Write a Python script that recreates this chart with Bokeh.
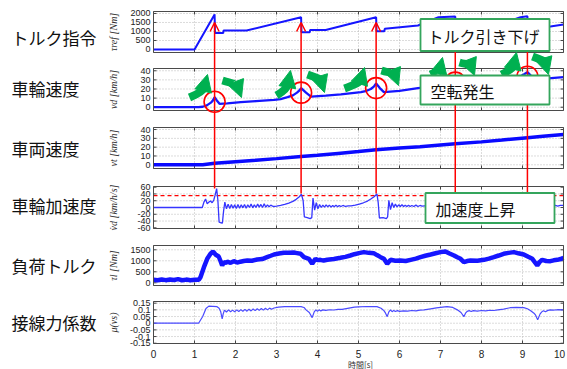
import math
from bokeh.plotting import figure
from bokeh.models import Range1d, Arrow, OpenHead, NormalHead
from bokeh.core.properties import value
from bokeh.embed import file_html
from bokeh.resources import INLINE

# ---------------- data ----------------
time_ticks = [0, 1, 2, 3, 4, 5, 6, 7, 8, 9, 10]
time_tick_labels = ["0", "1", "2", "3", "4", "5", "6", "7", "8", "9", "10"]
x_label = "時間[s]"

torque_pts = [(0.0, 0), (1.0, 0), (1.49, 1950), (1.50, 910), (1.70, 910), (1.71, 1055),
              (2.27, 1055), (3.60, 1790), (3.61, 960), (3.81, 960), (3.82, 1085),
              (4.20, 1085), (5.43, 1790), (5.44, 1010), (5.63, 1010), (5.64, 1150),
              (6.45, 1330), (6.95, 1790), (7.36, 1830), (7.37, 1010), (7.57, 1010),
              (7.58, 1140), (8.40, 1360), (8.95, 1790), (9.12, 1840), (9.13, 1120),
              (9.33, 1120), (9.34, 1250), (9.68, 1280), (10.0, 1390)]

wheel_pts = [(0.0, 0), (1.1, 0), (1.2, 0.5), (1.3, 2), (1.4, 5), (1.45, 7.5), (1.49, 11),
             (1.55, 7), (1.61, 3.7), (1.8, 4.3), (2.13, 5.5), (2.5, 6.7), (2.94, 8),
             (3.1, 9), (3.27, 11), (3.4, 13), (3.5, 16), (3.56, 18.5), (3.60, 21),
             (3.72, 16), (3.84, 11.7), (4.2, 12.8), (4.57, 14), (5.06, 16.5), (5.2, 18),
             (5.3, 20), (5.38, 23), (5.43, 26), (5.52, 21), (5.62, 16.5), (6.0, 18),
             (6.45, 21), (6.8, 22.5), (7.0, 24.5), (7.2, 28), (7.3, 30.5), (7.36, 32),
             (7.46, 27), (7.56, 24), (8.0, 25.5), (8.5, 28), (8.8, 31), (8.95, 34),
             (9.05, 36.5), (9.12, 38.5), (9.22, 34), (9.32, 30.5), (9.7, 32), (10.0, 33)]

vehicle_pts = [(0.0, 0), (1.2, 0), (1.49, 1.8), (2.0, 3.5), (2.5, 5.2), (3.0, 7.0),
               (3.6, 9.4), (4.0, 10.8), (4.5, 12.9), (5.0, 15.0), (5.43, 17.0),
               (6.0, 19.0), (6.5, 20.6), (7.0, 22.5), (7.36, 23.8), (8.0, 26.0),
               (8.5, 28.0), (9.12, 30.7), (9.5, 32.3), (10.0, 34.4)]

accel_pts = [(0.0, 0), (1.19, 0), (1.23, 16), (1.27, 25), (1.31, 11), (1.35, 16), (1.39, 19),
             (1.43, 14), (1.47, 22), (1.50, 35), (1.54, 56), (1.57, 22), (1.60, -43),
             (1.64, -45), (1.68, -46), (1.71, -10), (1.74, 16), (1.78, -4), (1.82, 10),
             (1.86, -3), (1.90, 9), (1.94, -2), (1.98, 8), (2.02, -3), (2.06, 9), (2.10, -2),
             (2.14, 8), (2.18, -1), (2.22, 9), (2.26, -2), (2.30, 8), (2.34, 0), (2.38, 10),
             (2.42, -1), (2.46, 8), (2.50, 0), (2.54, 10), (2.58, 1), (2.62, 9), (2.66, 0),
             (2.70, 11), (2.74, 1), (2.78, 8), (2.82, 2), (2.86, 7), (2.92, 3), (3.00, 4),
             (3.10, 6), (3.20, 9), (3.30, 13), (3.40, 18), (3.48, 24), (3.55, 31),
             (3.61, 39), (3.65, 20), (3.68, -28), (3.75, -30), (3.82, -33), (3.86, -30),
             (3.89, 28), (3.93, -8), (3.97, 14), (4.01, -4), (4.05, 9), (4.09, 0), (4.13, 7),
             (4.17, 1), (4.21, 8), (4.25, 2), (4.29, 7), (4.33, 1), (4.37, 6), (4.41, 2),
             (4.45, 7), (4.49, 2), (4.53, 6), (4.57, 3), (4.62, 6), (4.68, 3), (4.75, 5),
             (4.82, 5), (4.92, 7), (5.02, 10), (5.12, 14), (5.22, 19), (5.30, 25),
             (5.38, 32), (5.45, 40), (5.48, 15), (5.51, -31), (5.60, -30), (5.68, -33),
             (5.71, -28), (5.74, 21), (5.78, -6), (5.82, 14), (5.86, 0), (5.90, 10),
             (5.94, 2), (5.98, 8), (6.02, 3), (6.06, 8), (6.10, 3), (6.14, 7), (6.18, 3),
             (6.22, 7), (6.26, 3), (6.30, 6), (6.35, 3), (6.40, 7), (6.45, 3), (6.50, 6),
             (6.55, 4), (6.62, 5), (6.75, 6), (6.90, 10), (7.05, 16), (7.20, 25),
             (7.30, 33), (7.36, 39), (7.39, 14), (7.42, -30), (7.50, -31), (7.56, -32),
             (7.59, -28), (7.62, 20), (7.66, -5), (7.70, 12), (7.74, 1), (7.78, 9),
             (7.82, 2), (7.86, 8), (7.90, 3), (7.95, 7), (8.00, 4), (8.10, 6), (8.25, 7),
             (8.40, 9), (8.60, 13), (8.80, 19), (8.95, 27), (9.05, 33), (9.12, 39),
             (9.15, 14), (9.18, -32), (9.26, -33), (9.32, -31), (9.35, -26), (9.38, 22),
             (9.42, -6), (9.46, 12), (9.50, 1), (9.54, 9), (9.58, 2), (9.62, 8), (9.66, 3),
             (9.70, 7), (9.75, 4), (9.80, 6), (9.86, 4), (9.92, 6), (10.0, 6)]
accel_threshold = 35

load_pts = [(0.0, 140), (0.1, 115), (0.2, 150), (0.3, 120), (0.4, 145), (0.5, 125),
            (0.6, 165), (0.7, 115), (0.8, 145), (0.9, 120), (1.0, 135), (1.105, 140),
            (1.146, 255), (1.23, 710), (1.31, 1090), (1.39, 1317), (1.455, 1423),
            (1.51, 1287), (1.59, 1196), (1.63, 1014), (1.675, 787), (1.716, 938),
            (1.76, 900), (1.8, 960), (1.88, 910), (1.96, 983), (2.04, 920), (2.12, 960),
            (2.2, 990), (2.29, 1014), (2.4, 1000), (2.53, 1060), (2.65, 1080), (2.77, 1166),
            (2.86, 1230), (2.94, 1287), (3.06, 1330), (3.18, 1363), (3.3, 1370),
            (3.42, 1378), (3.5, 1350), (3.59, 1317), (3.67, 1166), (3.79, 1090),
            (3.87, 863), (3.95, 1090), (4.0, 1030), (4.07, 1044), (4.15, 1010),
            (4.24, 1044), (4.4, 1080), (4.56, 1135), (4.68, 1180), (4.80, 1241),
            (4.9, 1300), (5.01, 1347), (5.13, 1393), (5.25, 1360), (5.37, 1347),
            (5.45, 1260), (5.54, 1166), (5.62, 1090), (5.70, 863), (5.78, 1044),
            (5.9, 1000), (6.02, 1014), (6.15, 990), (6.27, 1044), (6.4, 1100),
            (6.51, 1166), (6.63, 1230), (6.76, 1287), (6.88, 1340), (7.0, 1393),
            (7.12, 1423), (7.22, 1330), (7.33, 1241), (7.41, 1160), (7.49, 1090),
            (7.57, 938), (7.65, 990), (7.73, 1014), (7.9, 1000), (8.06, 1044),
            (8.18, 1100), (8.3, 1166), (8.42, 1240), (8.54, 1317), (8.66, 1360),
            (8.79, 1393), (8.9, 1340), (9.03, 1287), (9.14, 1180), (9.24, 1090),
            (9.36, 787), (9.42, 950), (9.48, 1044), (9.58, 990), (9.68, 983),
            (9.76, 1020), (9.85, 1044), (9.93, 1080), (10.0, 1135)]

mu_pts = [(0.0, 0.0), (1.1, 0.0), (1.2, 0.05), (1.28, 0.11), (1.35, 0.128), (1.45, 0.126),
          (1.55, 0.124), (1.6, 0.112), (1.64, 0.085), (1.675, 0.032), (1.7, 0.07),
          (1.73, 0.098), (1.78, 0.084), (1.83, 0.1), (1.88, 0.086), (1.93, 0.098),
          (1.98, 0.085), (2.03, 0.1), (2.08, 0.088), (2.13, 0.102), (2.18, 0.089),
          (2.23, 0.104), (2.28, 0.09), (2.33, 0.105), (2.38, 0.092), (2.43, 0.107),
          (2.48, 0.094), (2.53, 0.108), (2.58, 0.096), (2.63, 0.11), (2.68, 0.098),
          (2.73, 0.112), (2.78, 0.1), (2.83, 0.113), (2.88, 0.104), (2.94, 0.114),
          (3.05, 0.12), (3.2, 0.124), (3.4, 0.125), (3.6, 0.124), (3.67, 0.118),
          (3.72, 0.1), (3.8, 0.08), (3.87, 0.042), (3.92, 0.085), (3.96, 0.1), (4.0, 0.09),
          (4.04, 0.1), (4.08, 0.092), (4.13, 0.1), (4.2, 0.096), (4.3, 0.101),
          (4.4, 0.099), (4.5, 0.104), (4.6, 0.103), (4.7, 0.109), (4.8, 0.115),
          (4.9, 0.12), (5.0, 0.123), (5.2, 0.125), (5.45, 0.124), (5.55, 0.112),
          (5.62, 0.094), (5.66, 0.075), (5.70, 0.049), (5.74, 0.085), (5.78, 0.1),
          (5.82, 0.086), (5.86, 0.096), (5.9, 0.088), (5.95, 0.094), (6.0, 0.089),
          (6.1, 0.093), (6.2, 0.09), (6.3, 0.095), (6.4, 0.092), (6.5, 0.098), (6.6, 0.1),
          (6.76, 0.108), (6.9, 0.115), (7.0, 0.119), (7.16, 0.124), (7.3, 0.118),
          (7.41, 0.1), (7.5, 0.08), (7.57, 0.049), (7.61, 0.075), (7.65, 0.089),
          (7.7, 0.094), (7.75, 0.088), (7.8, 0.094), (7.9, 0.091), (8.0, 0.095),
          (8.1, 0.093), (8.2, 0.097), (8.3, 0.095), (8.4, 0.1), (8.54, 0.106),
          (8.7, 0.116), (8.85, 0.119), (9.03, 0.117), (9.12, 0.108), (9.2, 0.094),
          (9.28, 0.075), (9.32, 0.06), (9.37, 0.025), (9.43, 0.07), (9.47, 0.085),
          (9.51, 0.094), (9.56, 0.086), (9.62, 0.096), (9.68, 0.1), (9.75, 0.098),
          (9.85, 0.101), (10.0, 0.1)]

slip_t = [1.49, 3.60, 5.43, 7.36, 9.12]
slip_wheel_v = [11, 21, 26, 32, 38.5]

row_labels = ["トルク指令", "車輪速度", "車両速度", "車輪加速度", "負荷トルク", "接線力係数"]
axis_labels = ["τref [Nm]", "vd [km/h]", "vt [km/h]", "v̇d [km/h/s]", "τl [Nm]", "μ(vs)"]
y_ticks = [[0, 500, 1000, 1500, 2000],
           [0, 10, 20, 30, 40],
           [0, 10, 20, 30, 40],
           [-60, -40, -20, 0, 20, 40, 60],
           [0, 500, 1000, 1500],
           [-0.15, -0.1, -0.05, 0, 0.05, 0.1, 0.15]]
y_tick_labels = [["0", "500", "1000", "1500", "2000"],
                 ["0", "10", "20", "30", "40"],
                 ["0", "10", "20", "30", "40"],
                 ["-60", "-40", "-20", "0", "20", "40", "60"],
                 ["0", "500", "1000", "1500"],
                 ["-0.15", "-0.1", "-0.05", "0", "0.05", "0.1", "0.15"]]
callout_texts = ["トルク引き下げ", "空転発生", "加速度上昇"]

# ---------------- layout (page pixels; canvas fills the window) ----------------
W, H = 567, 369
PAGE_TOP, PAGE_BOT = 0, H
X0, SX = 153.0, 41.0            # page x of t=0 and px per second


def t_of(px):
    return (px - X0) / SX


# panel frame: top px, bottom px, value at top, value at bottom
panel_geo = [(11, 52, 2110, -167), (68, 110, 42.5, -3.6), (127, 168, 42.3, -4.2),
             (186, 228, 62, -62), (245, 285, 1695, -123), (301, 343, 0.1626, -0.152)]
row_label_y = [37, 88, 148, 205, 265, 322]
names = ["p1", "p2", "p3", "p4", "p5", "p6"]

BLUE = "#1515ff"
GREEN = "#00b050"
BOXGREEN = "#34a55c"
RED = "#ff0000"
TICK_FONT = value("Liberation Sans")
JP_FONT = value("Noto Sans CJK JP")

p = figure(width=W, height=H, x_range=Range1d(t_of(0), t_of(W)),
           y_range=Range1d(PAGE_BOT, PAGE_TOP), output_backend="svg",
           toolbar_location=None, title=None, min_border=0,
           x_axis_location=None, y_axis_location=None)
p.grid.visible = False
p.outline_line_color = None
p.background_fill_color = "white"
p.border_fill_color = "white"

ranges = {}
ks = {}
for name, (top, bot, hi, lo) in zip(names, panel_geo):
    k = (hi - lo) / (bot - top)
    ks[name] = k
    ranges[name] = Range1d(start=lo - (PAGE_BOT - bot) * k, end=hi + (top - PAGE_TOP) * k)
p.extra_y_ranges = ranges

t_first, t_last = time_ticks[0], time_ticks[-1]
inner = time_ticks[1:-1]
tick_len_x = 3.0 / SX

for i, name in enumerate(names):
    top, bot, hi, lo = panel_geo[i]
    k = ks[name]
    p.segment(x0=inner, x1=inner, y0=[lo] * len(inner), y1=[hi] * len(inner),
              y_range_name=name, line_color="#b8b8b8", line_dash="1 2", line_width=1)
    gy = [v for v in y_ticks[i] if lo + 1.5 * k < v < hi - 1.5 * k]
    p.segment(x0=[t_first] * len(gy), x1=[t_last] * len(gy), y0=gy, y1=gy,
              y_range_name=name, line_color="#b8b8b8", line_dash="1 2", line_width=1)
    yt = y_ticks[i]
    p.segment(x0=[t_first] * len(yt), x1=[t_first + tick_len_x] * len(yt), y0=yt, y1=yt,
              y_range_name=name, line_color="#444444", line_width=1)
    p.segment(x0=[t_last - tick_len_x] * len(yt), x1=[t_last] * len(yt), y0=yt, y1=yt,
              y_range_name=name, line_color="#444444", line_width=1)
    p.segment(x0=time_ticks, x1=time_ticks, y0=[lo] * 11, y1=[lo + 3 * k] * 11,
              y_range_name=name, line_color="#444444", line_width=1)
    p.segment(x0=time_ticks, x1=time_ticks, y0=[hi - 3 * k] * 11, y1=[hi] * 11,
              y_range_name=name, line_color="#444444", line_width=1)
    p.text(x=[t_first] * len(yt), y=yt, text=y_tick_labels[i], x_offset=-3,
           text_align="right", text_baseline="middle", text_font_size="9px",
           text_color="#222222", text_font=TICK_FONT, y_range_name=name)


def xs(pts):
    return [a for a, b in pts]


def ys(pts):
    return [b for a, b in pts]


p.line(xs(torque_pts), ys(torque_pts), y_range_name="p1", line_color=BLUE, line_width=2)
p.line(xs(wheel_pts), ys(wheel_pts), y_range_name="p2", line_color=BLUE, line_width=2.3)
p.line(xs(vehicle_pts), ys(vehicle_pts), y_range_name="p3", line_color="#0a0aff", line_width=3.5)
p.segment(x0=[t_first], x1=[t_last], y0=[accel_threshold], y1=[accel_threshold],
          y_range_name="p4", line_color=RED, line_width=1.2, line_dash="4 3")
p.line(xs(accel_pts), ys(accel_pts), y_range_name="p4", line_color="#3535ff", line_width=1.3)
p.line(xs(load_pts), ys(load_pts), y_range_name="p5", line_color=BLUE, line_width=4.5)
p.line(xs(mu_pts), ys(mu_pts), y_range_name="p6", line_color="#4a4aff", line_width=1.2)

for i, name in enumerate(names):
    top, bot, hi, lo = panel_geo[i]
    p.quad(left=[t_first], right=[t_last], bottom=[lo], top=[hi], y_range_name=name,
           fill_color=None, line_color="#4a4a4a", line_width=1)

p.text(x=[t_of(11)] * 6, y=row_label_y, text=row_labels, text_align="left",
       text_baseline="middle", text_font_size="17px", text_font=JP_FONT, text_color="#111111")
centers = [(g[0] + g[1]) / 2 for g in panel_geo]
p.text(x=[t_of(112.5)] * 6, y=centers, text=axis_labels, angle=math.pi / 2,
       text_align="center", text_baseline="middle", text_font_size="10px",
       text_font=value("Liberation Serif"), text_font_style="italic", text_color="#333333")

x_label_offsets = [0] * (len(time_ticks) - 1) + [-4]
p.text(x=time_ticks, y=[353] * 11, text=time_tick_labels, x_offset=x_label_offsets,
       text_align="center", text_baseline="middle", text_font_size="10px",
       text_font=TICK_FONT, text_color="#222222")
p.text(x=[t_of(360)], y=[363.5], text=[x_label], text_align="center", text_baseline="middle",
       text_font_size="8px", text_font=JP_FONT, text_color="#333333")

p.scatter(slip_t, [v - 5 for v in slip_wheel_v], y_range_name="p2", marker="circle", size=21,
          fill_color=None, line_color=RED, line_width=1.6)

red_bottom = [188, 193, 193, 192, 192]
red_top = [22, 22, 22, 50, 50]
for i, t in enumerate(slip_t):
    head = OpenHead(size=9, line_color=RED, line_width=1.5) if i < 3 else None
    p.add_layout(Arrow(x_start=t, y_start=red_bottom[i], x_end=t, y_end=red_top[i],
                       line_color=RED, line_width=1.5, end=head))

# green curved arrows (page px: tail, tip)
green_arrows = [((189, 97), (207, 74)), ((222, 80), (241, 97)),
                ((276, 95), (290, 70)), ((307, 74), (324, 92)),
                ((344, 88), (364, 67)), ((381, 70), (398, 85)),
                ((430, 74), (442, 57)), ((459, 62), (474, 75)),
                ((501, 74), (516, 52)), ((532, 56), (548, 74))]
HEAD = 15
for (x0, y0), (x2, y2) in green_arrows:
    dx, dy = x2 - x0, y2 - y0
    cx, cy = (x0 + x2) / 2 + dx / 4, (y0 + y2) / 2 - dy / 4
    ux, uy = x2 - cx, y2 - cy
    L = math.hypot(ux, uy)
    ux, uy = ux / L, uy / L
    sx, sy = x2 - HEAD * ux, y2 - HEAD * uy
    p.quadratic(x0=[t_of(x0)], y0=[y0], x1=[t_of(sx + ux)], y1=[sy + uy],
                cx=[t_of(cx)], cy=[cy], line_color=GREEN, line_width=8)
    p.add_layout(Arrow(x_start=t_of(sx - 2 * ux), y_start=sy - 2 * uy,
                       x_end=t_of(x2), y_end=y2, line_alpha=0, line_width=1,
                       end=NormalHead(size=HEAD + 2, fill_color=GREEN, line_color=GREEN)))

callout_geo = [(420, 549, 18.5, 50.5), (420, 549, 75, 104), (425, 554, 192.5, 222.5)]
callout_text_pos = [(427, 35), (430, 90), (435, 208)]
for (l, r, tp, bt) in callout_geo:
    p.quad(left=[t_of(l)], right=[t_of(r)], top=[tp], bottom=[bt], fill_color="white",
           line_color=BOXGREEN, line_width=1.8, level="overlay")
p.text(x=[t_of(c[0]) for c in callout_text_pos], y=[c[1] for c in callout_text_pos],
       text=callout_texts, text_align="left", text_baseline="middle", text_font_size="16px",
       text_font=JP_FONT, text_color="#111111", level="overlay")

open("out.html", "w").write(file_html(p, INLINE))
